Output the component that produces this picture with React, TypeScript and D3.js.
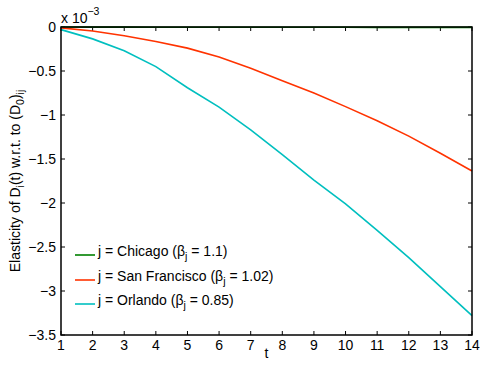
import { useEffect, useRef } from "react";
import * as d3 from "d3";

// t values on the x axis
const tValues = [1, 2, 3, 4, 5, 6, 7, 8, 9, 10, 11, 12, 13, 14];

// elasticity values (x 10^-3)
const chicago = [0, -0.001, -0.001, -0.002, -0.002, -0.002, -0.003, -0.003, -0.003, -0.003, -0.004, -0.004, -0.004, -0.004];
const sanFrancisco = [-0.01, -0.045, -0.1, -0.165, -0.24, -0.34, -0.47, -0.61, -0.75, -0.905, -1.065, -1.24, -1.435, -1.636];
const orlando = [-0.03, -0.135, -0.27, -0.45, -0.69, -0.91, -1.17, -1.45, -1.74, -2.01, -2.31, -2.62, -2.95, -3.28];

const yTicks = [0, -0.5, -1, -1.5, -2, -2.5, -3, -3.5];

const seriesList = [
  { name: "Chicago", beta: "1.1", values: chicago, color: "#008000" },
  { name: "San Francisco", beta: "1.02", values: sanFrancisco, color: "#ff3300" },
  { name: "Orlando", beta: "0.85", values: orlando, color: "#00bfbf" },
];

const FONT = "'Liberation Sans', Arial, Helvetica, sans-serif";

export default function App() {
  const svgRef = useRef<SVGSVGElement>(null);

  useEffect(() => {
    if (!svgRef.current) return;
    const svg = d3.select(svgRef.current);
    svg.selectAll("*").remove();

    const left = 61;
    const right = 472;
    const top = 27;
    const bottom = 335;

    const x = d3.scaleLinear().domain([1, 14]).range([left, right]);
    const y = d3.scaleLinear().domain([-3.5, 0]).range([bottom, top]);

    // white background
    svg.append("rect").attr("width", 480).attr("height", 365).attr("fill", "#fff");

    const line = d3
      .line<number>()
      .x((_, i) => x(tValues[i]))
      .y((d) => y(d));

    // Ticks on all four sides, pointing inward
    const tickLen = 4;
    const axes = svg.append("g").attr("stroke", "#000").attr("stroke-width", 1);

    tValues.forEach((t) => {
      axes.append("line").attr("x1", x(t)).attr("x2", x(t)).attr("y1", bottom).attr("y2", bottom - tickLen);
      axes.append("line").attr("x1", x(t)).attr("x2", x(t)).attr("y1", top).attr("y2", top + tickLen);
    });
    yTicks.forEach((v) => {
      axes.append("line").attr("x1", left).attr("x2", left + tickLen).attr("y1", y(v)).attr("y2", y(v));
      axes.append("line").attr("x1", right).attr("x2", right - tickLen).attr("y1", y(v)).attr("y2", y(v));
    });

    seriesList.forEach((s) => {
      svg
        .append("path")
        .datum(s.values)
        .attr("fill", "none")
        .attr("stroke", s.color)
        .attr("stroke-width", 1.6)
        .attr("d", line);
    });

    svg
      .append("rect")
      .attr("x", left)
      .attr("y", top)
      .attr("width", right - left)
      .attr("height", bottom - top)
      .attr("fill", "none")
      .attr("stroke", "#000")
      .attr("stroke-width", 1.5);

    // Tick labels
    const labels = svg.append("g").attr("font-family", FONT).attr("font-size", 14).attr("fill", "#000");
    tValues.forEach((t) => {
      labels
        .append("text")
        .attr("x", x(t))
        .attr("y", bottom + 15)
        .attr("text-anchor", "middle")
        .text(String(t));
    });
    yTicks.forEach((v) => {
      labels
        .append("text")
        .attr("x", left - 5)
        .attr("y", y(v) + 5)
        .attr("text-anchor", "end")
        .text(d3.format("")(v).replace("-", "\u2212"));
    });

    // Exponent label
    const expo = labels.append("text").attr("x", left).attr("y", 23);
    expo.append("tspan").text("x 10");
    expo.append("tspan").attr("font-size", 10.5).attr("dy", -8).text("\u22123");

    // x label
    labels
      .append("text")
      .attr("x", (left + right) / 2)
      .attr("y", 358)
      .attr("text-anchor", "middle")
      .text("t");

    // y label
    const yl = labels
      .append("text")
      .attr("transform", `translate(20,${(top + bottom) / 2}) rotate(-90)`)
      .attr("text-anchor", "middle");
    yl.append("tspan").text("Elasticity of D");
    yl.append("tspan").attr("font-size", 10.5).attr("dy", 4).text("i");
    yl.append("tspan").attr("dy", -4).text("(t) w.r.t. to (D");
    yl.append("tspan").attr("font-size", 10.5).attr("dy", 4).text("0");
    yl.append("tspan").attr("dy", -4).text(")");
    yl.append("tspan").attr("font-size", 10.5).attr("dy", 4).text("ij");

    // Legend
    const legendY = [255, 280, 304];
    seriesList.forEach((s, i) => {
      const ly = legendY[i];
      svg
        .append("line")
        .attr("x1", 75)
        .attr("x2", 95)
        .attr("y1", ly)
        .attr("y2", ly)
        .attr("stroke", s.color)
        .attr("stroke-width", 1.6);
      const txt = labels.append("text").attr("x", 98).attr("y", ly + 1);
      txt.append("tspan").text(`j = ${s.name} (\u03b2`);
      txt.append("tspan").attr("font-size", 10.5).attr("dy", 4).text("j");
      txt.append("tspan").attr("dy", -4).text(` = ${s.beta})`);
    });
  }, []);

  return (
    <div style={{ position: "absolute", left: 0, top: 0 }}>
      <svg ref={svgRef} width={480} height={365} style={{ display: "block" }} />
    </div>
  );
}
